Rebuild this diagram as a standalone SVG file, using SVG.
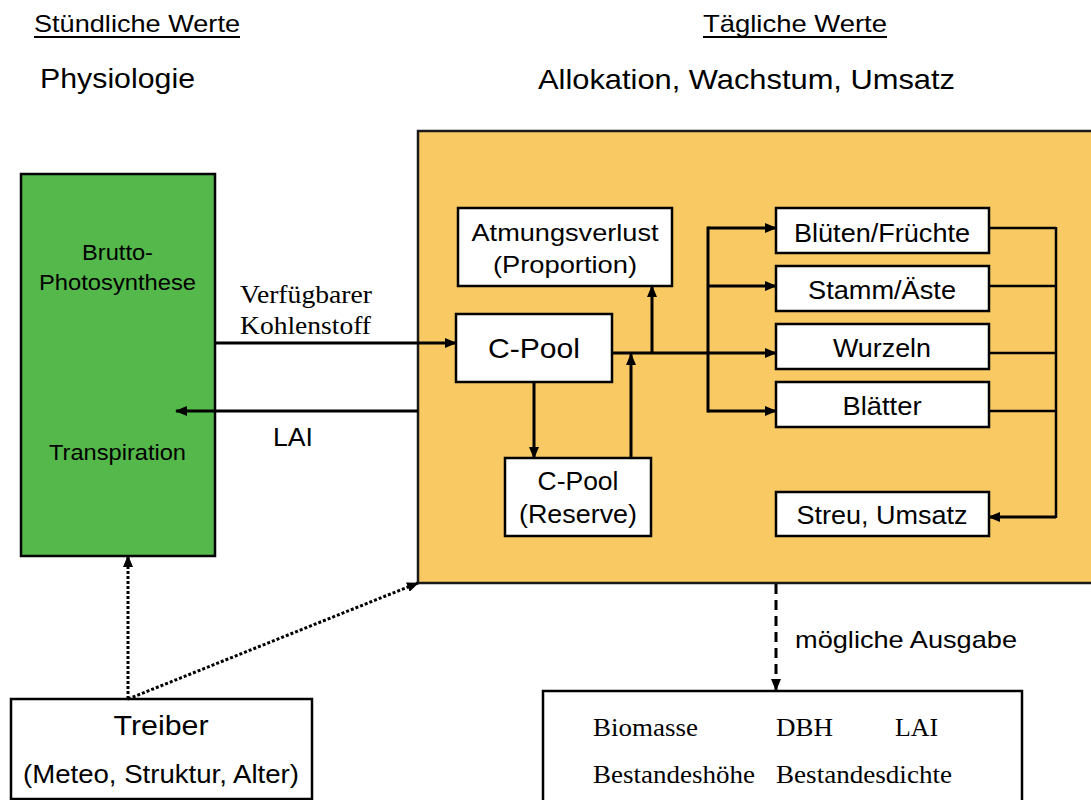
<svg xmlns="http://www.w3.org/2000/svg" width="1091" height="800" viewBox="0 0 1091 800">
<style>
.sans{font-family:"Liberation Sans",Arial,sans-serif;fill:#000}
.serif{font-family:"Liberation Serif","Times New Roman",serif;fill:#000}
.box{fill:#fff;stroke:#000;stroke-width:2.5}
.ln{fill:none;stroke:#000;stroke-width:3}
.ln2{fill:none;stroke:#000;stroke-width:2.5}
.dot{fill:none;stroke:#000;stroke-width:3;stroke-dasharray:3 2}
.dash{fill:none;stroke:#000;stroke-width:3;stroke-dasharray:10 6}
</style>
<defs>
<marker id="ah" markerUnits="userSpaceOnUse" markerWidth="12" markerHeight="10" refX="11" refY="5" orient="auto">
<path d="M0,0 L12,5 L0,10 Z" fill="#000"/>
</marker>
</defs>
<rect width="1091" height="800" fill="#fff"/>
<g id="headers">
<text class="sans" x="34" y="32" font-size="24" textLength="206" lengthAdjust="spacingAndGlyphs">Stündliche Werte</text>
<line x1="34" y1="37" x2="240" y2="37" stroke="#000" stroke-width="2"/>
<text class="sans" x="703" y="32" font-size="24" textLength="184" lengthAdjust="spacingAndGlyphs">Tägliche Werte</text>
<line x1="703" y1="37" x2="887" y2="37" stroke="#000" stroke-width="2"/>
<text class="sans" x="40" y="88" font-size="28" textLength="155" lengthAdjust="spacingAndGlyphs">Physiologie</text>
<text class="sans" x="538" y="89" font-size="28" textLength="417" lengthAdjust="spacingAndGlyphs">Allokation, Wachstum, Umsatz</text>
</g>
<g id="physiologie">
<rect x="21" y="174" width="194" height="382" fill="#54B84B" stroke="#000" stroke-width="2.5"/>
<text class="sans" x="117.5" y="260" font-size="22" text-anchor="middle" textLength="71" lengthAdjust="spacingAndGlyphs">Brutto-</text>
<text class="sans" x="117.5" y="290" font-size="22" text-anchor="middle" textLength="157" lengthAdjust="spacingAndGlyphs">Photosynthese</text>
<text class="sans" x="117.5" y="460" font-size="22" text-anchor="middle" textLength="137" lengthAdjust="spacingAndGlyphs">Transpiration</text>
</g>
<g id="allokation">
<rect x="418" y="131" width="690" height="452" fill="#F9CA63" stroke="#1a1a1a" stroke-width="2.5"/>
</g>
<g id="atmungsverlust">
<rect class="box" x="458" y="208" width="214" height="78"/>
<text class="sans" x="565" y="241" font-size="24" text-anchor="middle" textLength="187" lengthAdjust="spacingAndGlyphs">Atmungsverlust</text>
<text class="sans" x="565" y="273" font-size="24" text-anchor="middle" textLength="144" lengthAdjust="spacingAndGlyphs">(Proportion)</text>
</g>
<g id="cpool">
<rect class="box" x="456" y="314" width="156" height="68"/>
<text class="sans" x="534" y="358" font-size="28" text-anchor="middle" textLength="92" lengthAdjust="spacingAndGlyphs">C-Pool</text>
</g>
<g id="cpool-reserve">
<rect class="box" x="505" y="458" width="146" height="78"/>
<text class="sans" x="578" y="490" font-size="25" text-anchor="middle" textLength="81" lengthAdjust="spacingAndGlyphs">C-Pool</text>
<text class="sans" x="578" y="523" font-size="25" text-anchor="middle" textLength="118" lengthAdjust="spacingAndGlyphs">(Reserve)</text>
</g>
<g id="blueten">
<rect class="box" x="776" y="208" width="213" height="45"/>
<text class="sans" x="882" y="242" font-size="26" text-anchor="middle" textLength="176" lengthAdjust="spacingAndGlyphs">Blüten/Früchte</text>
</g>
<g id="stamm">
<rect class="box" x="776" y="266" width="213" height="45"/>
<text class="sans" x="882" y="299" font-size="26" text-anchor="middle" textLength="148" lengthAdjust="spacingAndGlyphs">Stamm/Äste</text>
</g>
<g id="wurzeln">
<rect class="box" x="776" y="324" width="213" height="45"/>
<text class="sans" x="882" y="357" font-size="26" text-anchor="middle" textLength="98" lengthAdjust="spacingAndGlyphs">Wurzeln</text>
</g>
<g id="blaetter">
<rect class="box" x="776" y="382" width="213" height="45"/>
<text class="sans" x="882" y="415" font-size="26" text-anchor="middle" textLength="79" lengthAdjust="spacingAndGlyphs">Blätter</text>
</g>
<g id="streu">
<rect class="box" x="776" y="492" width="213" height="44"/>
<text class="sans" x="882" y="524" font-size="26" text-anchor="middle" textLength="171" lengthAdjust="spacingAndGlyphs">Streu, Umsatz</text>
</g>
<g id="treiber">
<rect class="box" x="11" y="699" width="301" height="100"/>
<text class="sans" x="161" y="735" font-size="28" text-anchor="middle" textLength="95" lengthAdjust="spacingAndGlyphs">Treiber</text>
<text class="sans" x="161" y="783" font-size="26" text-anchor="middle" textLength="276" lengthAdjust="spacingAndGlyphs">(Meteo, Struktur, Alter)</text>
</g>
<g id="ausgabe">
<rect class="box" x="543" y="691" width="479" height="130"/>
<text class="serif" x="593" y="736" font-size="26" textLength="105" lengthAdjust="spacingAndGlyphs">Biomasse</text>
<text class="serif" x="776" y="736" font-size="26" textLength="57" lengthAdjust="spacingAndGlyphs">DBH</text>
<text class="serif" x="895" y="736" font-size="26" textLength="43" lengthAdjust="spacingAndGlyphs">LAI</text>
<text class="serif" x="593" y="783" font-size="26" textLength="162" lengthAdjust="spacingAndGlyphs">Bestandeshöhe</text>
<text class="serif" x="776" y="783" font-size="26" textLength="176" lengthAdjust="spacingAndGlyphs">Bestandesdichte</text>
</g>
<g id="connectors">
<line class="ln" x1="215" y1="343" x2="456" y2="343" marker-end="url(#ah)"/>
<text class="serif" x="240" y="303" font-size="25" textLength="132" lengthAdjust="spacingAndGlyphs">Verfügbarer</text>
<text class="serif" x="240" y="334" font-size="25" textLength="131" lengthAdjust="spacingAndGlyphs">Kohlenstoff</text>
<line class="ln" x1="418" y1="411" x2="176" y2="411" marker-end="url(#ah)"/>
<text class="sans" x="273" y="446" font-size="25" textLength="40" lengthAdjust="spacingAndGlyphs">LAI</text>
<line class="ln" x1="534" y1="382" x2="534" y2="458" marker-end="url(#ah)"/>
<line class="ln" x1="631" y1="458" x2="631" y2="354" marker-end="url(#ah)"/>
<line class="ln" x1="652" y1="353" x2="652" y2="286" marker-end="url(#ah)"/>
<line class="ln" x1="612" y1="353" x2="776" y2="353" marker-end="url(#ah)"/>
<line class="ln" x1="708" y1="226.5" x2="708" y2="412.5"/>
<line class="ln" x1="708" y1="228" x2="776" y2="228" marker-end="url(#ah)"/>
<line class="ln" x1="708" y1="286" x2="776" y2="286" marker-end="url(#ah)"/>
<line class="ln" x1="708" y1="411" x2="776" y2="411" marker-end="url(#ah)"/>
<path class="ln2" d="M989,228 H1056 M989,286 H1056 M989,353 H1056 M989,411 H1056 M1056,227 V518"/>
<line class="ln" x1="1056" y1="517" x2="989" y2="517" marker-end="url(#ah)"/>
<line class="dot" x1="128" y1="699" x2="128" y2="556" marker-end="url(#ah)"/>
<line class="dot" x1="128" y1="699" x2="418" y2="583" marker-end="url(#ah)"/>
<line class="dash" x1="776" y1="584" x2="776" y2="690" marker-end="url(#ah)"/>
<text class="sans" x="795" y="648" font-size="24" textLength="222" lengthAdjust="spacingAndGlyphs">mögliche Ausgabe</text>
</g>
</svg>
